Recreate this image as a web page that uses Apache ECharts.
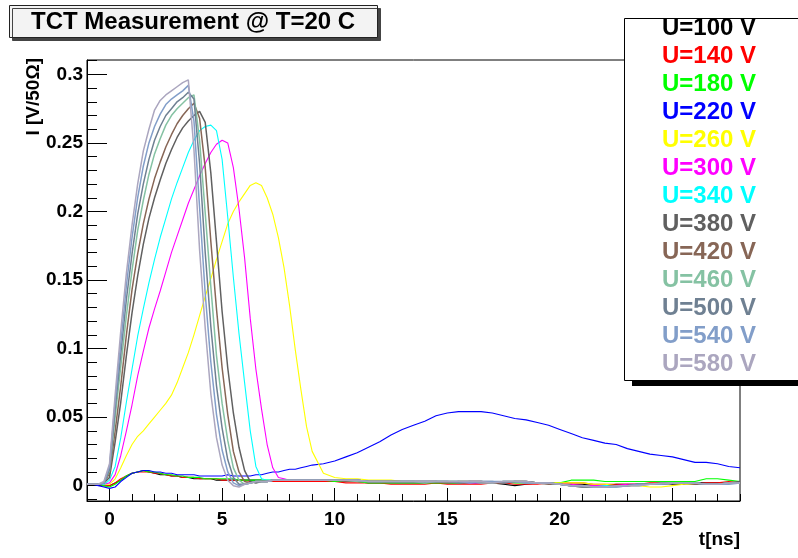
<!DOCTYPE html>
<html>
<head>
<meta charset="utf-8">
<script src="https://cdn.jsdelivr.net/npm/echarts@6/dist/echarts.min.js"></script>
<style>html,body{margin:0;padding:0;background:#fff}#c{width:798px;height:558px}</style>
</head>
<body>
<div id="c"></div>
<script>
// ---- data ----
var times = [-1,-0.75,-0.5,-0.25,0,0.25,0.5,0.75,1,1.25,1.5,1.75,2,2.25,2.5,2.75,3,3.25,3.5,3.75,4,4.25,4.5,4.75,5,5.25,5.5,5.75,6,6.25,6.5,6.75,7,7.25,7.5,7.75,8,8.25,8.5,8.75,9,
  9.5,10,10.5,11,11.5,12,12.5,13,13.5,14,14.5,15,15.5,16,16.5,17,17.5,18,18.5,19,19.5,20,20.5,21,21.5,22,22.5,23,23.5,24,24.5,25,25.5,26,26.5,27,27.5,28];

var seriesNames = ['U=100 V','U=140 V','U=180 V','U=220 V','U=260 V','U=300 V','U=340 V','U=380 V','U=420 V','U=460 V','U=500 V','U=540 V','U=580 V'];
var seriesColors = ['#000000','#ff0000','#00ff00','#0000ff','#ffff00','#ff00ff','#00ffff','#606060','#876656','#85c2a3','#6f8092','#829ec9','#aba6bf'];

var u100 = [0.001,0.001,0.001,0.000,0.000,0.002,0.004,0.007,0.009,0.010, 0.011,0.010,0.009,0.008,0.008,0.007,0.007,0.006,0.006,0.005, 0.005,0.005,0.005,0.004,0.004,0.004,0.004,0.004,0.004,0.004, 0.004,0.004,0.003,0.003,0.003,0.003,0.003,0.003,0.003,0.003,0.003,
  0.003,0.003,0.003,0.003,0.002,0.002,0.002,0.002,0.002,0.002, 0.002,0.002,0.002,0.002,0.002,0.002,0.001,0.000,0.001,0.002, 0.002,0.001,0.001,0.001,0.000,0.000,0.001,0.001,0.001,0.001, 0.002,0.001,0.001,0.002,0.002,0.002,0.002,0.002];
var u140 = [0.001,0.001,0.001,0.000,0.000,0.002,0.005,0.007,0.009,0.010, 0.010,0.010,0.009,0.009,0.008,0.007,0.007,0.006,0.006,0.006, 0.005,0.005,0.005,0.005,0.004,0.004,0.004,0.004,0.004,0.003, 0.003,0.003,0.003,0.003,0.003,0.003,0.003,0.003,0.003,0.003,0.003,
  0.003,0.003,0.002,0.002,0.002,0.002,0.001,0.001,0.001,0.001, 0.002,0.001,0.001,0.001,0.001,0.002,0.002,0.001,0.001,0.001, 0.002,0.002,0.002,0.002,0.001,0.001,0.001,0.001,0.001,0.002, 0.002,0.002,0.002,0.001,0.002,0.002,0.003,0.002];
var u180 = [0.001,0.001,0.001,0.000,-0.001,0.001,0.004,0.007,0.009,0.010, 0.011,0.010,0.010,0.009,0.008,0.008,0.007,0.007,0.006,0.006, 0.006,0.005,0.005,0.005,0.005,0.005,0.005,0.004,0.004,0.004, 0.004,0.004,0.004,0.004,0.004,0.004,0.004,0.004,0.004,0.004,0.004,
  0.004,0.003,0.003,0.003,0.002,0.002,0.002,0.002,0.002,0.002, 0.002,0.002,0.002,0.003,0.003,0.003,0.003,0.002,0.002,0.002, 0.002,0.002,0.004,0.004,0.004,0.003,0.003,0.003,0.003,0.003, 0.003,0.003,0.003,0.003,0.005,0.005,0.004,0.003];
var u220 = [0.001,0.001,0.000,-0.001,-0.002,-0.001,0.003,0.006,0.009,0.010, 0.011,0.011,0.010,0.010,0.009,0.009,0.008,0.008,0.008,0.008, 0.007,0.007,0.007,0.007,0.007,0.008,0.007,0.007,0.007,0.007, 0.008,0.008,0.009,0.010,0.010,0.011,0.012,0.012,0.013,0.014,0.015,
  0.016,0.018,0.021,0.024,0.028,0.032,0.037,0.041,0.044,0.047, 0.051,0.053,0.054,0.054,0.054,0.053,0.051,0.049,0.048,0.046, 0.044,0.041,0.038,0.035,0.033,0.031,0.030,0.027,0.025,0.023, 0.022,0.021,0.019,0.017,0.017,0.016,0.014,0.013];
var u260 = [0.001,0.001,0.001,0.001,0.001,0.005,0.013,0.022,0.030,0.036, 0.040,0.045,0.050,0.055,0.060,0.066,0.075,0.086,0.097,0.110, 0.124,0.138,0.151,0.165,0.178,0.191,0.200,0.207,0.213,0.219, 0.221,0.219,0.210,0.198,0.181,0.159,0.131,0.099,0.070,0.043,0.025,
  0.009,0.006,0.005,0.005,0.004,0.004,0.004,0.003,0.003,0.003, 0.003,0.003,0.003,0.003,0.003,0.003,0.003,0.003,0.003,0.002, 0.002,0.002,0.002,0.002,0.001,0.001,0.000,0.000,0.000,-0.001, -0.001,0.000,0.001,0.001,0.001,0.001,0.002,0.002];
var u300 = [0.001,0.001,0.001,0.001,0.002,0.008,0.022,0.040,0.059,0.080, 0.098,0.115,0.129,0.142,0.156,0.170,0.182,0.194,0.206,0.216, 0.226,0.235,0.243,0.249,0.252,0.250,0.232,0.202,0.166,0.122, 0.085,0.056,0.030,0.013,0.006,0.005,0.004,0.004,0.004,0.004,0.004,
  0.004,0.004,0.004,0.003,0.003,0.003,0.003,0.003,0.003,0.003, 0.003,0.003,0.003,0.002,0.002,0.002,0.003,0.003,0.002,0.002, 0.002,0.001,0.001,0.000,0.000,0.000,0.000,0.001,0.001,0.001, 0.001,0.002,0.002,0.002,0.001,0.001,0.002,0.002];
var u340 = [0.001,0.001,0.001,0.001,0.004,0.014,0.035,0.061,0.085,0.109, 0.129,0.148,0.165,0.181,0.195,0.209,0.221,0.232,0.243,0.252, 0.259,0.262,0.263,0.259,0.238,0.196,0.152,0.111,0.075,0.040, 0.014,0.005,0.004,0.004,0.004,0.004,0.004,0.004,0.004,0.004,0.004,
  0.004,0.004,0.004,0.004,0.003,0.003,0.003,0.003,0.003,0.003, 0.003,0.003,0.003,0.003,0.003,0.002,0.003,0.003,0.003,0.002, 0.002,0.001,0.000,0.000,-0.001,0.000,0.000,0.000,0.001,0.001, 0.001,0.002,0.002,0.002,0.001,0.001,0.002,0.002];
var u380 = [0.001,0.001,0.001,0.002,0.006,0.032,0.061,0.095,0.126,0.153, 0.176,0.195,0.210,0.223,0.235,0.245,0.254,0.261,0.266,0.270, 0.273,0.265,0.228,0.178,0.127,0.086,0.053,0.028,0.011,0.003, 0.002,0.003,0.003,0.004,0.004,0.004,0.004,0.004,0.004,0.004,0.004,
  0.004,0.004,0.004,0.004,0.003,0.003,0.003,0.003,0.003,0.003, 0.003,0.003,0.003,0.003,0.003,0.002,0.003,0.003,0.003,0.002, 0.002,0.001,0.000,0.000,-0.001,-0.001,0.000,0.000,0.001,0.001, 0.002,0.002,0.002,0.002,0.001,0.001,0.002,0.003];
var u420 = [0.001,0.001,0.001,0.002,0.009,0.040,0.073,0.110,0.143,0.169, 0.191,0.209,0.224,0.236,0.247,0.256,0.264,0.270,0.275,0.279, 0.268,0.232,0.178,0.129,0.086,0.052,0.025,0.010,0.003,0.002, 0.003,0.003,0.003,0.004,0.004,0.004,0.004,0.004,0.004,0.004,0.004,
  0.004,0.004,0.003,0.004,0.003,0.003,0.003,0.003,0.003,0.003, 0.003,0.002,0.003,0.003,0.003,0.002,0.002,0.003,0.003,0.002, 0.001,0.001,0.000,-0.001,-0.001,-0.001,0.000,0.000,0.001,0.001, 0.001,0.002,0.002,0.001,0.001,0.001,0.002,0.002];
var u460 = [0.001,0.001,0.001,0.002,0.011,0.050,0.087,0.124,0.157,0.186, 0.208,0.227,0.242,0.253,0.263,0.270,0.275,0.279,0.283,0.285, 0.252,0.199,0.145,0.095,0.060,0.033,0.013,0.004,0.001,0.002, 0.003,0.003,0.003,0.004,0.004,0.004,0.004,0.004,0.004,0.004,0.004,
  0.004,0.004,0.004,0.003,0.003,0.003,0.003,0.003,0.003,0.002, 0.003,0.003,0.003,0.003,0.002,0.002,0.003,0.003,0.002,0.002, 0.002,0.001,0.000,0.000,-0.001,-0.001,-0.001,0.000,0.000,0.001, 0.001,0.002,0.002,0.002,0.001,0.001,0.002,0.002];
var u500 = [0.001,0.001,0.001,0.002,0.012,0.056,0.096,0.136,0.169,0.198, 0.220,0.238,0.252,0.262,0.270,0.275,0.280,0.283,0.287,0.282, 0.235,0.170,0.116,0.073,0.042,0.019,0.006,0.001,0.001,0.002, 0.003,0.003,0.003,0.004,0.004,0.004,0.004,0.004,0.004,0.004,0.004,
  0.004,0.004,0.004,0.004,0.003,0.003,0.003,0.003,0.003,0.003, 0.003,0.003,0.002,0.003,0.003,0.003,0.002,0.003,0.003,0.002, 0.002,0.001,0.000,-0.001,-0.001,-0.001,0.000,0.000,0.001,0.001, 0.001,0.002,0.002,0.002,0.001,0.001,0.002,0.002];
var u540 = [0.001,0.001,0.001,0.002,0.014,0.061,0.104,0.146,0.181,0.210, 0.233,0.250,0.262,0.271,0.278,0.282,0.285,0.288,0.292,0.266, 0.203,0.140,0.090,0.052,0.026,0.010,0.002,0.000,0.001,0.002, 0.003,0.003,0.003,0.004,0.004,0.004,0.004,0.004,0.004,0.004,0.004,
  0.004,0.004,0.004,0.004,0.003,0.003,0.003,0.003,0.003,0.003, 0.003,0.003,0.003,0.002,0.003,0.003,0.003,0.003,0.002,0.002, 0.002,0.001,0.000,0.000,-0.001,-0.001,-0.001,0.000,0.001,0.001, 0.001,0.002,0.002,0.002,0.001,0.001,0.001,0.002];
var u580 = [0.001,0.001,0.001,0.003,0.016,0.066,0.113,0.155,0.190,0.220, 0.244,0.260,0.274,0.281,0.285,0.288,0.291,0.294,0.296,0.245, 0.172,0.115,0.067,0.035,0.015,0.004,0.000,-0.001,0.001,0.002, 0.003,0.003,0.003,0.004,0.004,0.004,0.004,0.004,0.004,0.004,0.004,
  0.004,0.004,0.004,0.004,0.003,0.003,0.003,0.003,0.003,0.003, 0.003,0.003,0.003,0.003,0.003,0.002,0.003,0.003,0.003,0.002, 0.002,0.001,0.000,0.000,-0.001,-0.001,0.000,0.000,0.000,0.001, 0.002,0.002,0.002,0.002,0.001,0.001,0.002,0.002];

var seriesValues = [u100,u140,u180,u220,u260,u300,u340,u380,u420,u460,u500,u540,u580];

var xTickValues = [0,5,10,15,20,25];
var yTickValues = [0,0.05,0.1,0.15,0.2,0.25,0.3];
var yMinorTickValues = [-0.01,0,0.01,0.02,0.03,0.04,0.05,0.06,0.07,0.08,0.09,0.1,0.11,0.12,0.13,0.14,0.15,0.16,0.17,0.18,0.19,0.2,0.21,0.22,0.23,0.24,0.25,0.26,0.27,0.28,0.29,0.3,0.31];

// ---- chart ----
var FONT = '"Liberation Sans", Arial, Helvetica, sans-serif';
var X_MIN = -1, X_MAX = 28, Y_MIN = -0.0112, Y_MAX = 0.3105;
var chart = echarts.init(document.getElementById('c'), null, {renderer: 'canvas'});

var series = seriesNames.map(function (n, i) {
  return {
    name: n, type: 'line', xAxisIndex: 0, yAxisIndex: 0,
    data: times.map(function (t, j) { return [t, seriesValues[i][j]]; }),
    showSymbol: false, symbol: 'none',
    lineStyle: {color: seriesColors[i], width: i >= 7 ? 1.5 : 1.1},
    itemStyle: {color: seriesColors[i]},
    emphasis: {disabled: true}, animation: false, z: 2
  };
});

var option = {
  backgroundColor: '#ffffff',
  animation: false,
  title: {
    text: 'TCT Measurement @ T=20 C', left: 9, top: 5,
    padding: [5, 23, 4, 22],
    backgroundColor: '#f3f3f3', borderColor: '#222', borderWidth: 1,
    shadowColor: '#444', shadowOffsetX: 3, shadowOffsetY: 3, shadowBlur: 0.01,
    textStyle: {fontSize: 24, fontWeight: 'bold', color: '#000', fontFamily: FONT}
  },
  grid: {left: 87, right: 58, top: 60, bottom: 57, show: true, borderColor: '#000', borderWidth: 1, backgroundColor: 'transparent'},
  legend: {
    orient: 'vertical', left: 657, top: 14, padding: 0, itemGap: 0,
    itemWidth: 0, itemHeight: 0, icon: 'rect', z: 10, selectedMode: false,
    textStyle: {fontSize: 24, fontWeight: 'bold', lineHeight: 28, fontFamily: FONT},
    data: seriesNames.map(function (n, i) { return {name: n, textStyle: {color: seriesColors[i]}}; })
  },
  graphic: [
    {type: 'rect', z: 3, z2: 0, shape: {x: 632, y: 23, width: 220, height: 363}, style: {fill: '#000'}},
    {type: 'rect', z: 3, z2: 1, shape: {x: 624.5, y: 18.5, width: 220, height: 362}, style: {fill: '#fff', stroke: '#000', lineWidth: 1}}
  ],
  xAxis: [
    {
      type: 'value', min: X_MIN, max: X_MAX, position: 'bottom',
      axisLine: {show: true, onZero: false, lineStyle: {color: '#000', width: 1}},
      axisTick: {show: true, inside: true, length: 13, customValues: xTickValues, lineStyle: {color: '#000'}},
      axisLabel: {customValues: xTickValues, margin: 9, fontSize: 19, fontWeight: 'bold', color: '#000', fontFamily: FONT,
                  formatter: function (v) { return String(v); }},
      splitLine: {show: false},
      name: 't[ns]', nameLocation: 'end', nameGap: 0,
      nameTextStyle: {align: 'right', verticalAlign: 'top', padding: [29, 0, 0, 0], fontSize: 19, fontWeight: 'bold', color: '#000', fontFamily: FONT}
    },
    {
      type: 'value', min: X_MIN, max: X_MAX, interval: 1, position: 'bottom',
      axisLine: {show: false, onZero: false},
      axisTick: {show: true, inside: true, length: 7, lineStyle: {color: '#000'}},
      axisLabel: {show: false}, splitLine: {show: false}
    }
  ],
  yAxis: [
    {
      type: 'value', min: Y_MIN, max: Y_MAX, position: 'left',
      axisLine: {show: true, onZero: false, lineStyle: {color: '#000', width: 1}},
      axisTick: {show: true, inside: true, length: 20, customValues: yTickValues, lineStyle: {color: '#000'}},
      axisLabel: {customValues: yTickValues, margin: 4, fontSize: 19, fontWeight: 'bold', color: '#000', fontFamily: FONT,
                  formatter: function (v) { return String(v); }},
      splitLine: {show: false},
      name: 'I [V/50Ω]', nameLocation: 'end', nameRotate: 90, nameGap: 2,
      nameTextStyle: {align: 'right', verticalAlign: 'bottom', padding: [0, 0, 44, 0], fontSize: 19, fontWeight: 'bold', color: '#000', fontFamily: FONT}
    },
    {
      type: 'value', min: Y_MIN, max: Y_MAX, position: 'left',
      axisLine: {show: false, onZero: false},
      axisTick: {show: true, inside: true, length: 10, customValues: yMinorTickValues, lineStyle: {color: '#000'}},
      axisLabel: {show: false}, splitLine: {show: false}
    }
  ],
  series: series
};
chart.setOption(option);
</script>
</body>
</html>
